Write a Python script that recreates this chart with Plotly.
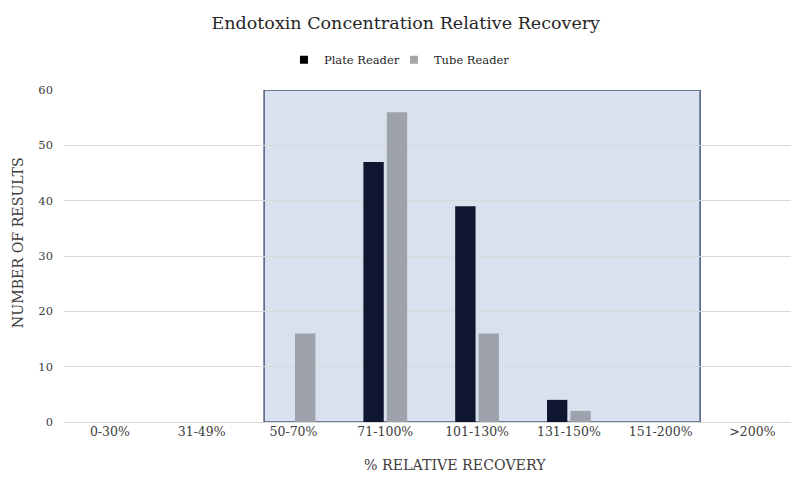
import plotly.graph_objects as go

categories = ["0-30%", "31-49%", "50-70%", "71-100%", "101-130%", "131-150%", "151-200%", ">200%"]
plate_reader = [0, 0, 0, 47, 39, 4, 0, 0]
tube_reader = [0, 0, 16, 56, 16, 2, 0, 0]

FONT = "DejaVu Serif"

fig = go.Figure()
fig.add_trace(go.Bar(x=categories, y=plate_reader, name="Plate Reader", showlegend=False,
                     marker=dict(color="#0f1630", line=dict(width=0))))
fig.add_trace(go.Bar(x=categories, y=tube_reader, name="Tube Reader", showlegend=False,
                     marker=dict(color="#9ea3ab", line=dict(width=0))))
# legend entries with small square keys
fig.add_trace(go.Scatter(x=[None], y=[None], mode="markers", name="Plate Reader",
                         marker=dict(symbol="square", size=8, color="#000000")))
fig.add_trace(go.Scatter(x=[None], y=[None], mode="markers", name="Tube Reader",
                         marker=dict(symbol="square", size=8, color="#a6a6a6")))

fig.add_shape(type="rect", xref="x", yref="y", x0=1.68, x1=6.43, y0=0, y1=60,
              fillcolor="#d9e1ee", line=dict(color="#4a5f80", width=1.5), layer="below")

fig.update_layout(
    width=791, height=477,
    margin=dict(l=64, r=0, t=90, b=55),
    paper_bgcolor="white", plot_bgcolor="white",
    font=dict(family=FONT, color="#404040", size=12),
    barmode="group", bargap=0.49, bargroupgap=0.13,
    title=dict(text="Endotoxin Concentration Relative Recovery",
               x=0.513, xanchor="center", y=0.953, yanchor="middle",
               font=dict(family=FONT, size=17.5, color="#262626")),
    legend=dict(orientation="h", x=0.517, xanchor="center", xref="container",
                y=0.875, yanchor="middle", yref="container",
                font=dict(family=FONT, size=11.5, color="#262626"),
                itemwidth=30, indentation=-15, traceorder="normal",
                entrywidth=80, entrywidthmode="pixels"),
    showlegend=True,
)
fig.update_xaxes(range=[-0.5, 7.42], showgrid=False, showline=False, zeroline=False,
                 ticks="", tickfont=dict(family=FONT, size=12.5, color="#404040"))
fig.update_yaxes(range=[0, 60], dtick=10, showgrid=True, gridcolor="#d9d9d9", gridwidth=1,
                 zeroline=True, zerolinecolor="#d9d9d9", zerolinewidth=1,
                 showline=False, ticks="", tickfont=dict(family=FONT, size=11.5, color="#404040"),
                 ticklabelstandoff=10)
fig.add_annotation(text="% RELATIVE RECOVERY", xref="paper", yref="paper",
                   x=(455 - 64) / 727, y=-43 / 331.5, xanchor="center", yanchor="middle",
                   showarrow=False, font=dict(family=FONT, size=14.2, color="#404040"))
fig.add_annotation(text="NUMBER OF RESULTS", xref="paper", yref="paper",
                   x=(18 - 64) / 727, y=(421.5 - 243) / 331.5, xanchor="center", yanchor="middle",
                   textangle=-90, showarrow=False,
                   font=dict(family=FONT, size=14.2, color="#404040"))

fig.write_html("out.html")
